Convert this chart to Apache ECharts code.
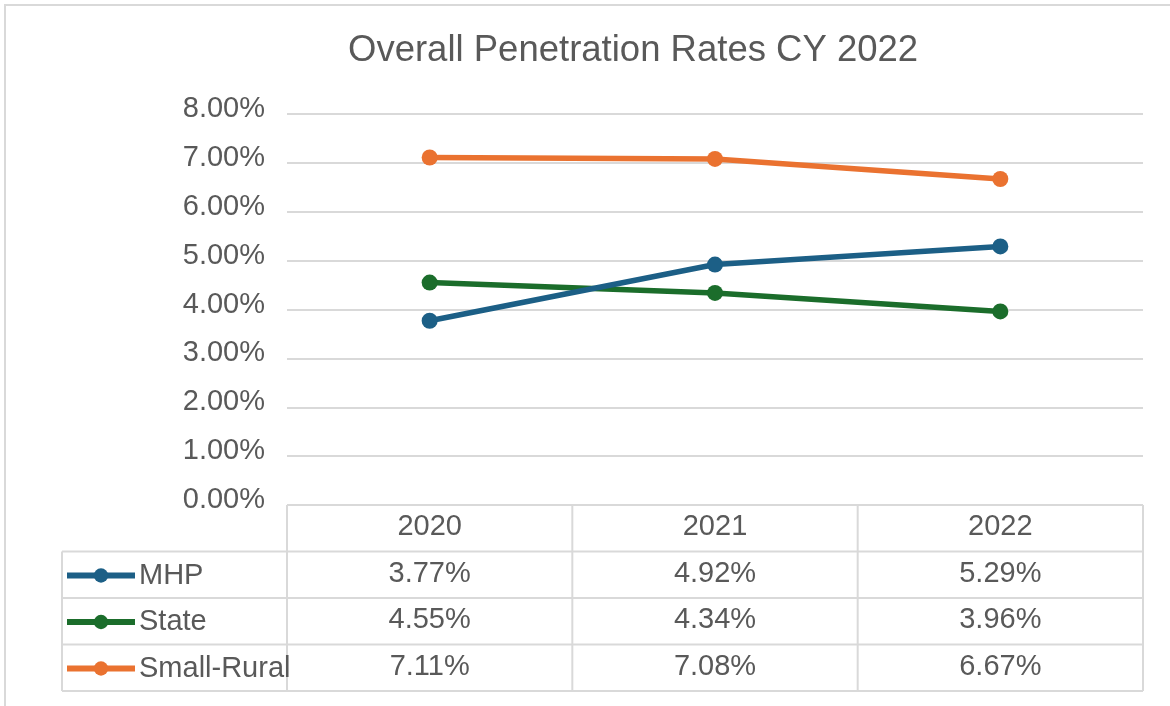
<!DOCTYPE html>
<html>
<head>
<meta charset="utf-8">
<script src="https://cdn.jsdelivr.net/npm/echarts@6/dist/echarts.min.js"></script>
<style>
html,body{margin:0;padding:0;background:#fff;}
#c{width:1170px;height:706px;}
</style>
</head>
<body>
<div id="c"></div>
<script>
const title = 'Overall Penetration Rates CY 2022';
const categories = ['2020', '2021', '2022'];
const seriesNames = ['MHP', 'State', 'Small-Rural'];
const mhp = [3.77, 4.92, 5.29];
const state = [4.55, 4.34, 3.96];
const smallRural = [7.11, 7.08, 6.67];
const yTicks = [0, 1, 2, 3, 4, 5, 6, 7, 8];
const colors = ['#1c5f86', '#1b6d2b', '#ea7230'];

const seriesData = [mhp, state, smallRural];
const FONT = '"Liberation Sans", Arial, sans-serif';
const TXT = '#595959';
const GRID_L = 287, GRID_R = 1143, GRID_T = 114, GRID_B = 505;
const ROW_H = 46.5;
const FS = 29;
const fmt = v => v.toFixed(2) + '%';

const chart = echarts.init(document.getElementById('c'), null, {renderer: 'canvas'});

// x axis labels form the body of the table: header + value rows
const xLabel = (val, idx) => {
  const lines = ['{h|' + val + '}'];
  seriesData.forEach(d => lines.push('{v|' + fmt(d[idx]) + '}'));
  return lines.join('\n');
};

const option = {
  backgroundColor: '#fff',
  animation: false,
  title: {
    text: title,
    left: 343,
    top: 27,
    textStyle: {fontFamily: FONT, fontSize: 36.5, fontWeight: 'normal', color: TXT}
  },
  grid: {left: GRID_L, right: 1170 - GRID_R, top: GRID_T, bottom: 706 - GRID_B, containLabel: false},
  legend: {
    orient: 'vertical',
    left: 59,
    top: GRID_B + ROW_H + 4,
    itemWidth: 68,
    itemHeight: 18,
    itemGap: ROW_H - 30,
    data: seriesNames,
    lineStyle: {width: 6},
    textStyle: {fontFamily: FONT, fontSize: FS, color: TXT, lineHeight: 30, padding: [0, 0, 0, -1]}
  },
  xAxis: {
    type: 'category',
    data: categories,
    axisLine: {show: false},
    axisTick: {show: false},
    axisLabel: {
      margin: -1,
      formatter: xLabel,
      fontFamily: FONT,
      color: TXT,
      rich: {
        h: {fontFamily: FONT, fontSize: FS, color: TXT, lineHeight: ROW_H, align: 'center'},
        v: {fontFamily: FONT, fontSize: FS, color: TXT, lineHeight: ROW_H, align: 'center'}
      }
    }
  },
  yAxis: {
    type: 'value',
    min: 0,
    max: 8,
    interval: 1,
    axisLine: {show: false},
    axisTick: {show: false},
    axisLabel: {
      margin: 22,
      fontFamily: FONT,
      fontSize: FS,
      color: TXT,
      verticalAlign: 'bottom',
      lineHeight: 10,
      formatter: v => fmt(v)
    },
    splitLine: {lineStyle: {color: '#d9d9d9', width: 2}}
  },
  series: seriesNames.map((n, i) => ({
    name: n,
    type: 'line',
    data: seriesData[i],
    symbol: 'circle',
    symbolSize: 16,
    showSymbol: true,
    lineStyle: {color: colors[i], width: 5.5},
    itemStyle: {color: colors[i]},
    z: 3 - i
  }))
};
chart.setOption(option);

// Table grid lines (derived from grid edges and category band boundaries)
const bandEdges = [];
const x0 = chart.convertToPixel({xAxisIndex: 0}, 0);
const x1 = chart.convertToPixel({xAxisIndex: 0}, 1);
const band = x1 - x0;
for (let i = 0; i <= categories.length; i++) bandEdges.push(x0 - band / 2 + i * band);
const yZero = chart.convertToPixel({yAxisIndex: 0}, 0);
const tableLeft = 62;
const rows = seriesNames.length;
const tableBottom = yZero + ROW_H * (rows + 1);
const lineStyle = {stroke: '#d9d9d9', lineWidth: 2};
const g = [];
// outer frame
g.push({type: 'polyline', shape: {points: [[5, 706], [5, 5], [1170, 5]]}, style: {stroke: '#d9d9d9', lineWidth: 2, fill: null}, silent: true});
// header top line
g.push({type: 'line', shape: {x1: bandEdges[0], y1: yZero, x2: bandEdges[bandEdges.length - 1], y2: yZero}, style: lineStyle, silent: true});
for (let r = 1; r <= rows + 1; r++) {
  const y = yZero + ROW_H * r;
  g.push({type: 'line', shape: {x1: tableLeft, y1: y, x2: bandEdges[bandEdges.length - 1], y2: y}, style: lineStyle, silent: true});
}
bandEdges.forEach(x => {
  g.push({type: 'line', shape: {x1: x, y1: yZero, x2: x, y2: tableBottom}, style: lineStyle, silent: true, z: 0});
});
g.push({type: 'line', shape: {x1: tableLeft, y1: yZero + ROW_H, x2: tableLeft, y2: tableBottom}, style: lineStyle, silent: true});
chart.setOption({graphic: g});
</script>
</body>
</html>
